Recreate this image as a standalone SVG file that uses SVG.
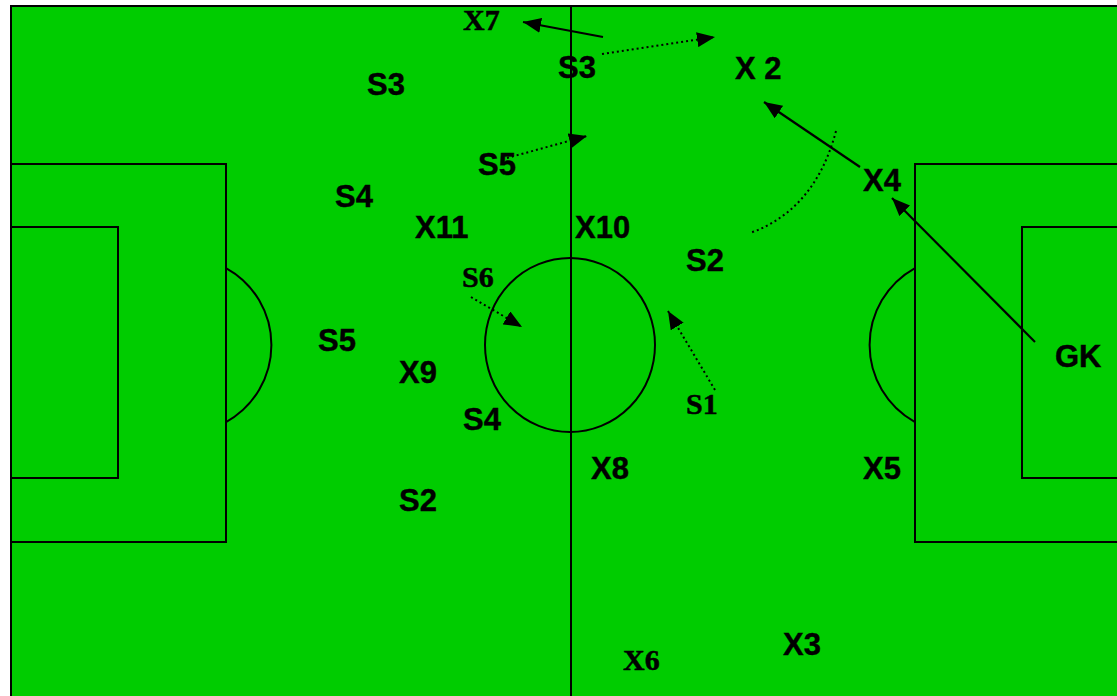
<svg xmlns="http://www.w3.org/2000/svg" width="1117" height="696" viewBox="0 0 1117 696">
<defs>
<marker id="ah" markerUnits="userSpaceOnUse" markerWidth="19" markerHeight="15" refX="18" refY="7.5" orient="auto">
<path d="M0,0 L18,7.5 L0,15 z" fill="#000"/>
</marker>
<style>
.ln{fill:none;stroke:#000;stroke-width:2}
.sol{fill:none;stroke:#000;stroke-width:2.2;marker-end:url(#ah)}
.dot{fill:none;stroke:#000;stroke-width:2;stroke-dasharray:2 3;marker-end:url(#ah)}
.s{font-family:"Liberation Sans",Arial,sans-serif;font-weight:bold;font-size:31px;fill:#000;stroke:#000;stroke-width:0.4}
.t{font-family:"Liberation Serif","Times New Roman",serif;font-weight:bold;font-size:30px;fill:#000;stroke:#000;stroke-width:0.5}
</style>
</defs>
<rect x="0" y="0" width="1117" height="696" fill="#fff"/>
<g id="pitch">
<rect x="11" y="6" width="1130" height="720" fill="#00cc00" stroke="#000" stroke-width="2"/>
<line class="ln" x1="571" y1="6" x2="571" y2="700"/>
<ellipse class="ln" cx="570" cy="345" rx="85" ry="87"/>
<rect class="ln" x="11" y="164" width="215" height="378"/>
<rect class="ln" x="11" y="227" width="107" height="251"/>
<path class="ln" d="M226,268 A88,88 0 0 1 226,422"/>
<rect class="ln" x="915" y="164" width="230" height="378"/>
<rect class="ln" x="1022" y="227" width="130" height="251"/>
<path class="ln" d="M915,268 A88,88 0 0 0 915,422"/>
</g>
<g id="connectors">
<line class="sol" x1="603" y1="37" x2="523" y2="22"/>
<line class="dot" x1="602" y1="54" x2="715" y2="37"/>
<line class="dot" x1="507" y1="158" x2="587" y2="136"/>
<line class="sol" x1="860" y1="167" x2="764" y2="102"/>
<line class="sol" x1="1035" y1="342" x2="892" y2="198"/>
<path d="M836,131 Q815,210 750,233" fill="none" stroke="#000" stroke-width="2" stroke-dasharray="2 3"/>
<line class="dot" x1="471" y1="297" x2="522" y2="327"/>
<line class="dot" x1="715" y1="390" x2="668" y2="311"/>
</g>
<g id="n-X7"><text class="t" x="463" y="30">X7</text></g>
<g id="n-S3-top"><text class="s" x="558" y="78">S3</text></g>
<g id="n-X2"><text class="s" x="735" y="79">X 2</text></g>
<g id="n-S3-left"><text class="s" x="367" y="95">S3</text></g>
<g id="n-S5-top"><text class="s" x="478" y="175">S5</text></g>
<g id="n-X4"><text class="s" x="863" y="191">X4</text></g>
<g id="n-S4-left"><text class="s" x="335" y="207">S4</text></g>
<g id="n-X11"><text class="s" x="415" y="238">X11</text></g>
<g id="n-X10"><text class="s" x="575" y="238">X10</text></g>
<g id="n-S2-right"><text class="s" x="686" y="271">S2</text></g>
<g id="n-S6"><text class="t" x="462" y="287">S6</text></g>
<g id="n-S5-left"><text class="s" x="318" y="351">S5</text></g>
<g id="n-GK"><text class="s" x="1055" y="367">GK</text></g>
<g id="n-X9"><text class="s" x="399" y="383">X9</text></g>
<g id="n-S1"><text class="t" x="686" y="414">S1</text></g>
<g id="n-S4-low"><text class="s" x="463" y="430">S4</text></g>
<g id="n-X8"><text class="s" x="591" y="479">X8</text></g>
<g id="n-X5"><text class="s" x="863" y="479">X5</text></g>
<g id="n-S2-left"><text class="s" x="399" y="511">S2</text></g>
<g id="n-X3"><text class="s" x="783" y="655">X3</text></g>
<g id="n-X6"><text class="t" x="623" y="670">X6</text></g>
</svg>
